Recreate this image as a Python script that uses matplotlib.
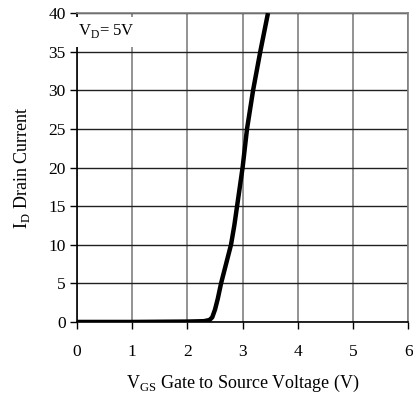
import numpy as np
import matplotlib.pyplot as plt
from matplotlib.patches import Rectangle

plt.rcParams['font.family'] = ['Liberation Serif', 'DejaVu Serif']
plt.rcParams['font.size'] = 12.5

# transfer curve
vgs = [0.0, 1.0, 2.0, 2.3, 2.4, 2.45, 2.5, 2.55, 2.61, 2.7, 2.79, 2.85, 2.9, 3.0, 3.08, 3.19, 3.32, 3.46]
i_d = [0.0, 0.0, 0.05, 0.1, 0.25, 0.6, 1.6, 3.0, 5.0, 7.5, 10.0, 12.5, 15.0, 20.0, 25.0, 30.0, 35.0, 40.0]

x_ticks = [0, 1, 2, 3, 4, 5, 6]
y_ticks = [0, 5, 10, 15, 20, 25, 30, 35, 40]

fig = plt.figure(figsize=(4.14, 3.96), dpi=100)
ax = fig.add_axes([0.186, 0.187, 0.80, 0.78])

ax.plot(vgs, i_d, color='black', lw=3.2, solid_capstyle='butt',
        solid_joinstyle='round', zorder=3)

ax.set_xlim(0, 6)
ax.set_ylim(0, 40)
ax.set_xticks(x_ticks)
ax.set_yticks(y_ticks)
ax.grid(axis='x', color='#808080', lw=1.2)
ax.grid(axis='y', color='#202020', lw=1.0)
ax.set_axisbelow(True)

for s in ['top', 'right']:
    ax.spines[s].set_color('#808080')
    ax.spines[s].set_linewidth(1.2)
ax.spines['left'].set_linewidth(1.2)
ax.spines['bottom'].set_linewidth(1.2)
ax.spines['bottom'].set_zorder(4)
ax.tick_params(axis='both', direction='out', length=5, width=1)
ax.tick_params(axis='x', pad=11)
ax.tick_params(axis='y', pad=3)

# white label box covering the grid and axis line
ax.add_patch(Rectangle((-0.03, 35.6), 1.06, 3.9, facecolor='white',
                       edgecolor='none', zorder=6, clip_on=False))
ax.text(0.02, 37.7, r'V$_{\mathregular{D}}$= 5V', fontsize=12,
        va='center', ha='left', zorder=7)

ax.set_xlabel(r'V$_{\mathregular{GS}}$ Gate to Source Voltage (V)', fontsize=13, labelpad=9)
ax.set_ylabel(r'I$_{\mathregular{D}}$ Drain Current', fontsize=13, labelpad=12)

plt.savefig('out.png', dpi=100)
